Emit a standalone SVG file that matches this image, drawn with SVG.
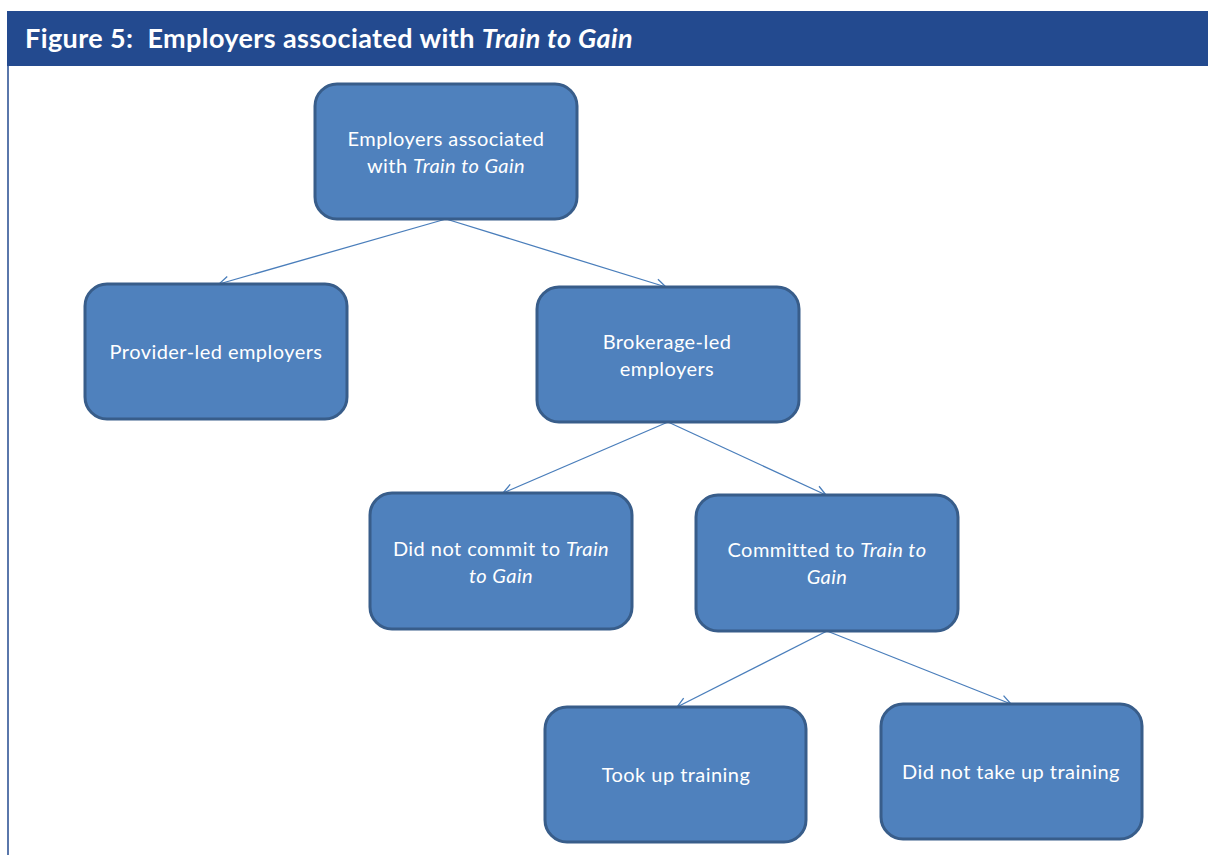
<svg xmlns="http://www.w3.org/2000/svg" width="1208" height="855" viewBox="0 0 1208 855">
<defs>
<style>
.node rect{fill:#4F81BD;stroke:#385D8A;stroke-width:3}
.node text{fill:#fff;font-family:Lato,"Open Sans","Liberation Sans",sans-serif;font-size:20px;letter-spacing:0.45px;text-anchor:middle}
.conn line{stroke:#4A7EBB;stroke-width:1.3;fill:none}
.it{font-style:italic}
</style>
<marker id="arr" viewBox="0 0 12 12" refX="11" refY="6" markerWidth="12" markerHeight="12" markerUnits="userSpaceOnUse" orient="auto">
<path d="M1,1 L11,6 L1,11" fill="none" stroke="#4A7EBB" stroke-width="1.3"/>
</marker>
</defs>
<rect width="1208" height="855" fill="#fff"/>
<g id="frame">
<rect x="7" y="11" width="1201" height="55" fill="#234A8F"/>
<line x1="8" y1="66" x2="8" y2="855" stroke="#234A8F" stroke-width="1.5"/>
<text x="25" y="48" fill="#fff" font-family="Lato,'Open Sans','Liberation Sans',sans-serif" font-size="27" font-weight="bold" letter-spacing="0.4" xml:space="preserve">Figure 5:  Employers associated with <tspan font-style="italic">Train to Gain</tspan></text>
</g>
<g id="connectors" class="conn">
<line x1="446" y1="219" x2="219" y2="284" marker-end="url(#arr)"/>
<line x1="446" y1="219" x2="666" y2="287" marker-end="url(#arr)"/>
<line x1="668" y1="422" x2="503" y2="493" marker-end="url(#arr)"/>
<line x1="668" y1="422" x2="826" y2="495" marker-end="url(#arr)"/>
<line x1="827" y1="631" x2="677" y2="707" marker-end="url(#arr)"/>
<line x1="827" y1="631" x2="1011" y2="704" marker-end="url(#arr)"/>
</g>
<g id="n1" class="node"><rect x="315" y="84" width="262" height="135" rx="22"/>
<text x="446" y="146">Employers associated</text><text x="446" y="173">with <tspan class="it">Train to Gain</tspan></text></g>
<g id="n2" class="node"><rect x="85" y="284" width="262" height="135" rx="22"/>
<text x="216" y="359">Provider-led employers</text></g>
<g id="n3" class="node"><rect x="537" y="287" width="262" height="135" rx="22"/>
<text x="667" y="349">Brokerage-led</text><text x="667" y="376">employers</text></g>
<g id="n4" class="node"><rect x="370" y="493" width="262" height="136" rx="22"/>
<text x="501" y="556">Did not commit to <tspan class="it">Train</tspan></text><text x="501" y="583" class="it">to Gain</text></g>
<g id="n5" class="node"><rect x="696" y="495" width="262" height="136" rx="22"/>
<text x="827" y="557">Committed to <tspan class="it">Train to</tspan></text><text x="827" y="584" class="it">Gain</text></g>
<g id="n6" class="node"><rect x="545" y="707" width="261" height="135" rx="22"/>
<text x="676" y="782">Took up training</text></g>
<g id="n7" class="node"><rect x="881" y="704" width="261" height="135" rx="22"/>
<text x="1011" y="779">Did not take up training</text></g>
</svg>
